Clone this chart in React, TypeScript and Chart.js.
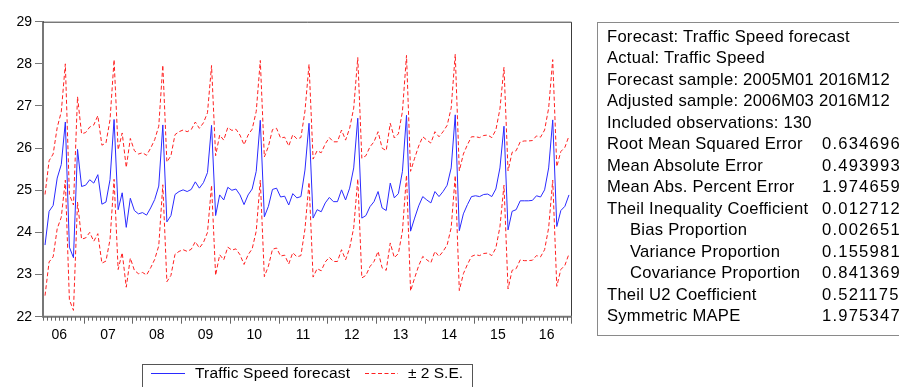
import React, { useEffect, useRef } from "react";
import { Chart, registerables } from "chart.js";

Chart.register(...registerables);

// Sample: 2006M03 .. 2016M12 (130 monthly observations)
const startYear = 2006;
const startMonth = 3;

// Traffic Speed forecast
const forecast: number[] = [
  // 2006 (M03-M12)
  23.70, 24.50, 24.64, 25.29, 25.61, 26.62, 23.65, 23.40, 25.97, 25.09,
  // 2007
  25.12, 25.25, 25.17, 25.37, 24.67, 24.72, 25.25, 26.68, 24.54, 24.94, 24.12, 24.81,
  // 2008
  24.52, 24.44, 24.47, 24.41, 24.58, 24.78, 25.10, 26.55, 24.25, 24.40, 24.90, 24.97,
  // 2009
  25.01, 24.97, 25.02, 25.20, 25.05, 25.18, 25.42, 26.54, 24.40, 24.89, 24.77, 25.07,
  // 2010
  25.00, 25.03, 24.89, 24.66, 24.89, 25.03, 25.45, 26.66, 24.37, 24.62, 25.02, 25.05,
  // 2011
  24.84, 24.86, 24.65, 24.92, 24.82, 24.85, 25.48, 26.59, 24.34, 24.54, 24.49, 24.70,
  // 2012
  24.83, 24.73, 24.73, 25.01, 24.77, 25.05, 25.53, 26.71, 24.34, 24.40, 24.61, 24.73,
  // 2013
  24.97, 24.58, 24.52, 25.17, 24.82, 24.92, 25.45, 26.78, 24.03, 24.34, 24.63, 24.85,
  // 2014
  24.77, 24.70, 24.97, 24.85, 24.97, 25.12, 25.53, 26.79, 24.04, 24.44, 24.66, 24.85,
  // 2015
  24.87, 24.85, 24.90, 24.91, 24.85, 25.03, 25.53, 26.52, 24.06, 24.50, 24.54, 24.75,
  // 2016
  24.75, 24.75, 24.76, 24.87, 24.84, 25.01, 25.53, 26.67, 24.14, 24.52, 24.62, 24.89,
];

// 2 x forecast standard error
const twoSE: number[] = [
  1.20, 1.20, 1.22, 1.20, 1.25, 1.38, 1.25, 1.25, 1.25, 1.25,
  1.25, 1.25, 1.38, 1.40, 1.40, 1.40, 1.42, 1.42, 1.42, 1.42, 1.42, 1.42,
  1.42, 1.42, 1.42, 1.42, 1.42, 1.42, 1.42, 1.42, 1.42, 1.42, 1.42, 1.42,
  1.42, 1.42, 1.42, 1.42, 1.42, 1.42, 1.42, 1.42, 1.42, 1.42, 1.42, 1.42,
  1.42, 1.42, 1.42, 1.42, 1.42, 1.42, 1.42, 1.42, 1.42, 1.42, 1.42, 1.42,
  1.40, 1.40, 1.40, 1.40, 1.40, 1.40, 1.40, 1.40, 1.40, 1.40, 1.40, 1.40,
  1.42, 1.42, 1.42, 1.42, 1.42, 1.42, 1.42, 1.44, 1.42, 1.42, 1.42, 1.42,
  1.42, 1.42, 1.42, 1.42, 1.42, 1.42, 1.42, 1.42, 1.42, 1.42, 1.42, 1.42,
  1.42, 1.42, 1.42, 1.42, 1.42, 1.42, 1.42, 1.44, 1.42, 1.42, 1.42, 1.42,
  1.40, 1.40, 1.40, 1.40, 1.40, 1.40, 1.40, 1.40, 1.40, 1.40, 1.40, 1.40,
  1.42, 1.42, 1.42, 1.42, 1.42, 1.42, 1.42, 1.43, 1.42, 1.40, 1.40, 1.40,
];

const yTicks: number[] = [22, 23, 24, 25, 26, 27, 28, 29];

const statLabels: string[] = [
  "Forecast: Traffic Speed forecast",
  "Actual: Traffic Speed",
  "Forecast sample: 2005M01 2016M12",
  "Adjusted sample: 2006M03 2016M12",
  "Included observations: 130",
  "Root Mean Squared Error",
  "Mean Absolute Error",
  "Mean Abs. Percent Error",
  "Theil Inequality Coefficient",
  "Bias Proportion",
  "Variance Proportion",
  "Covariance Proportion",
  "Theil U2 Coefficient",
  "Symmetric MAPE",
];
const statIndent: boolean[] = [
  false, false, false, false, false, false, false, false, false,
  true, true, true, false, false,
];
const statValues: string[] = [
  "", "", "", "", "",
  "0.634696", "0.493993", "1.974659", "0.012712",
  "0.002651", "0.155981", "0.841369", "0.521175", "1.975347",
];

const FONT = '"Liberation Sans", Arial, sans-serif';

const axisPlugin = {
  id: "eviewsAxis",
  afterDraw(chart: any) {
    const { ctx, chartArea: a } = chart;
    const x = chart.scales.x;
    ctx.save();
    // frame (top/right)
    ctx.strokeStyle = "#3c3c3c";
    ctx.lineWidth = 1;
    ctx.beginPath();
    ctx.moveTo(a.left, a.top + 0.5);
    ctx.lineTo(a.right + 0.5, a.top + 0.5);
    ctx.lineTo(a.right + 0.5, a.bottom);
    ctx.stroke();
    // bottom axis line
    ctx.strokeStyle = "#777";
    ctx.lineWidth = 2;
    ctx.beginPath();
    ctx.moveTo(a.left - 1, a.bottom);
    ctx.lineTo(a.right + 1, a.bottom);
    ctx.stroke();
    // month ticks
    ctx.lineWidth = 1;
    ctx.strokeStyle = "#666";
    const n = forecast.length;
    for (let k = 0; k <= n; k++) {
      const px = Math.round(x.getPixelForValue(k - 0.5)) + 0.5;
      const month = (startMonth - 1 + k) % 12;
      const len = month === 0 ? 7 : 4;
      ctx.beginPath();
      ctx.moveTo(px, a.bottom);
      ctx.lineTo(px, a.bottom + len);
      ctx.stroke();
    }
    // year labels at mid-year
    ctx.fillStyle = "#000";
    ctx.font = "14px " + FONT;
    ctx.textAlign = "center";
    ctx.textBaseline = "middle";
    const lastYear = startYear + Math.floor((startMonth - 1 + n - 1) / 12);
    for (let yr = startYear; yr <= lastYear; yr++) {
      const julIdx = (yr - startYear) * 12 + (7 - startMonth);
      const px = x.getPixelForValue(julIdx - 0.5);
      ctx.fillText(String(yr % 100).padStart(2, "0"), px, a.bottom + 18);
    }
    ctx.restore();
  },
};

function ChartCanvas() {
  const ref = useRef<HTMLCanvasElement | null>(null);
  useEffect(() => {
    if (!ref.current) return;
    const pts = (arr: number[]) => arr.map((v, i) => ({ x: i, y: v }));
    const upper = forecast.map((v, i) => v + twoSE[i]);
    const lower = forecast.map((v, i) => v - twoSE[i]);
    const chart = new Chart(ref.current, {
      type: "line",
      data: {
        datasets: [
          {
            label: "Traffic Speed forecast",
            data: pts(forecast),
            borderColor: "#2a2aff",
            borderWidth: 1,
            pointRadius: 0,
            tension: 0,
            order: 2,
          },
          {
            label: "± 2 S.E.",
            data: pts(upper),
            borderColor: "#ff2020",
            borderWidth: 1,
            borderDash: [4, 2.5],
            pointRadius: 0,
            tension: 0,
            order: 1,
          },
          {
            label: "± 2 S.E. (lower)",
            data: pts(lower),
            borderColor: "#ff2020",
            borderWidth: 1,
            borderDash: [4, 2.5],
            pointRadius: 0,
            tension: 0,
            order: 1,
          },
        ],
      },
      options: {
        responsive: false,
        animation: false,
        layout: { padding: { left: 0, top: 21.7, right: 328, bottom: 70.3 } },
        plugins: { legend: { display: false }, tooltip: { enabled: false } },
        scales: {
          x: {
            type: "linear",
            display: false,
            min: -0.5,
            max: forecast.length - 0.5,
          },
          y: {
            min: yTicks[0],
            max: yTicks[yTicks.length - 1],
            afterBuildTicks: (s: any) => {
              s.ticks = yTicks.map((v) => ({ value: v }));
            },
            afterFit: (s: any) => {
              s.width = 43;
            },
            ticks: {
              color: "#000",
              font: { family: FONT, size: 14 },
              padding: 3,
            },
            grid: {
              drawOnChartArea: false,
              drawTicks: true,
              tickLength: 8,
              tickColor: "#777",
              color: "#777",
            },
            border: { display: true, color: "#777", width: 2 },
          },
        },
      },
      plugins: [axisPlugin],
    });
    return () => chart.destroy();
  }, []);
  return (
    <canvas
      ref={ref}
      width={899}
      height={387}
      style={{ position: "absolute", left: 0, top: 0, width: 899, height: 387 }}
    />
  );
}

export default function App() {
  const lineH = 21.47;
  return (
    <div
      style={{
        position: "absolute",
        left: 0,
        top: 0,
        width: 899,
        height: 387,
        background: "#fff",
        overflow: "hidden",
        fontFamily: FONT,
      }}
    >
      <ChartCanvas />
      <div
        style={{
          position: "absolute",
          left: 597,
          top: 22,
          width: 330,
          height: 314,
          border: "1px solid #8a8a8a",
          boxSizing: "border-box",
        }}
      />
      {statLabels.map((t, k) => (
        <div
          key={"l" + k}
          style={{
            position: "absolute",
            left: statIndent[k] ? 630 : 607,
            top: 37 + k * lineH - 10,
            height: 20,
            lineHeight: "20px",
            fontSize: 16.6,
            letterSpacing: 0.25,
            color: "#000",
            whiteSpace: "pre",
          }}
        >
          {t}
        </div>
      ))}
      {statValues.map((t, k) =>
        t ? (
          <div
            key={"v" + k}
            style={{
              position: "absolute",
              left: 822,
              top: 37 + k * lineH - 10,
              height: 20,
              lineHeight: "20px",
              fontSize: 16.6,
              letterSpacing: 1.2,
              color: "#000",
              whiteSpace: "pre",
            }}
          >
            {t}
          </div>
        ) : null
      )}
      <div
        style={{
          position: "absolute",
          left: 142,
          top: 364,
          width: 331,
          height: 40,
          border: "1px solid #555",
          boxSizing: "border-box",
        }}
      />
      <svg
        width={899}
        height={387}
        style={{ position: "absolute", left: 0, top: 0, pointerEvents: "none" }}
      >
        <line x1={151} y1={373.5} x2={185} y2={373.5} stroke="#2a2aff" strokeWidth={1} />
        <line
          x1={365}
          y1={373.5}
          x2={398}
          y2={373.5}
          stroke="#ff2020"
          strokeWidth={1}
          strokeDasharray="4 2.5"
        />
      </svg>
      <div
        style={{
          position: "absolute",
          left: 195,
          top: 363,
          lineHeight: "20px",
          fontSize: 15.5,
          letterSpacing: 0.2,
          whiteSpace: "pre",
        }}
      >
        Traffic Speed forecast
      </div>
      <div
        style={{
          position: "absolute",
          left: 408,
          top: 363,
          lineHeight: "20px",
          fontSize: 15.5,
          whiteSpace: "pre",
        }}
      >
        ± 2 S.E.
      </div>
    </div>
  );
}
